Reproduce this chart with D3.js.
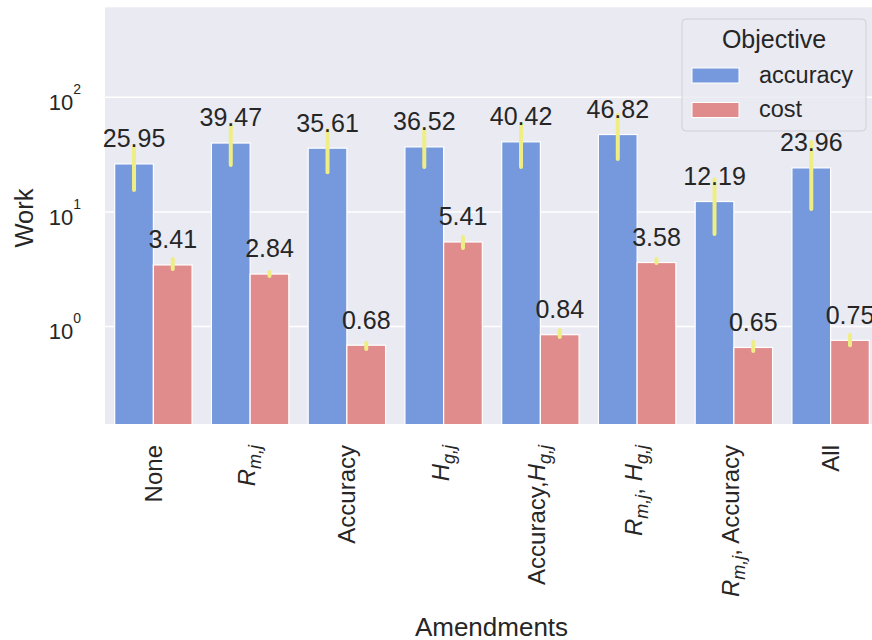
<!DOCTYPE html>
<html>
<head>
<meta charset="utf-8">
<script src="https://cdn.jsdelivr.net/npm/d3@7"></script>
<style>
  body { margin: 0; background: #fff; }
  svg { display: block; font-family: "Liberation Sans", Arial, sans-serif; }
</style>
</head>
<body>
<div id="chart"></div>
<script>
// data
var categories = ['None', '$R_{m,j}$', 'Accuracy', '$H_{g,j}$', 'Accuracy,$H_{g,j}$',
                  '$R_{m,j}$, $H_{g,j}$', '$R_{m,j}$, Accuracy', 'All'];
var objectives = ['accuracy', 'cost'];
var accuracyWork = [25.95, 39.47, 35.61, 36.52, 40.42, 46.82, 12.19, 23.96];
var costWork     = [3.41, 2.84, 0.68, 5.41, 0.84, 3.58, 0.65, 0.75];
var accuracyLow  = [15.4, 25.4, 22.0, 24.4, 24.4, 28.6, 6.35, 10.5];
var accuracyHigh = [36.4, 56.6, 51.2, 52.3, 57.8, 69.2, 19.1, 40.3];
var costLow      = [3.14, 2.73, 0.63, 4.79, 0.80, 3.54, 0.605, 0.68];
var costHigh     = [3.84, 2.96, 0.71, 5.97, 0.92, 3.84, 0.725, 0.835];
var yTicks = [1, 10, 100];
var yTickExp = ['0', '1', '2'];

// layout
var width = 872,
    height = 640,
    plotLeft = 105,
    plotRight = 879,
    plotTop = 7.3,
    plotBottom = 424,
    yMin = 0.1397,
    yMax = 603,
    colors = {accuracy: '#7599dc', cost: '#e18c8c'},
    errColor = '#eeee84',
    textColor = '#262626';

var rows = [];
categories.forEach(function(c, i) {
  rows.push({cat: c, obj: 'accuracy', v: accuracyWork[i], lo: accuracyLow[i], hi: accuracyHigh[i]});
  rows.push({cat: c, obj: 'cost', v: costWork[i], lo: costLow[i], hi: costHigh[i]});
});

var svg = d3.select('#chart').append('svg')
    .attr('width', width)
    .attr('height', height);

var x = d3.scaleBand().domain(categories)
    .range([plotLeft, plotRight])
    .paddingInner(0.2).paddingOuter(0.1);
var xHue = d3.scaleBand().domain(objectives).range([0, x.bandwidth()]);
var y = d3.scaleLog().domain([yMin, yMax]).range([plotBottom, plotTop]);

svg.append('clipPath').attr('id', 'plotClip')
  .append('rect')
    .attr('x', plotLeft).attr('y', plotTop)
    .attr('width', plotRight - plotLeft).attr('height', plotBottom - plotTop);

svg.append('rect')
    .attr('x', plotLeft).attr('y', plotTop)
    .attr('width', plotRight - plotLeft).attr('height', plotBottom - plotTop)
    .attr('fill', '#eaeaf2');

// grid
var grid = svg.append('g')
    .attr('transform', 'translate(' + plotLeft + ',0)')
    .call(d3.axisLeft(y).tickValues(yTicks).tickSize(-(plotRight - plotLeft)).tickFormat(''));
grid.select('.domain').remove();
grid.selectAll('line').attr('stroke', '#fff').attr('stroke-width', 1.5);

// y tick labels 10^n
var yLab = svg.append('g').selectAll('text')
    .data(yTicks)
    .enter().append('text')
    .attr('x', 81)
    .attr('y', function(d) { return y(d) + 13.3; })
    .attr('text-anchor', 'end')
    .attr('fill', textColor)
    .attr('font-size', '22px');
yLab.append('tspan').text('10');
yLab.append('tspan')
    .attr('dy', -16)
    .attr('font-size', '14px')
    .text(function(d, i) { return yTickExp[i]; });

// bars
var plot = svg.append('g').attr('clip-path', 'url(#plotClip)');
plot.selectAll('rect.bar')
    .data(rows)
    .enter().append('rect')
    .attr('class', 'bar')
    .attr('x', function(d) { return x(d.cat) + xHue(d.obj); })
    .attr('width', xHue.bandwidth())
    .attr('y', function(d) { return y(d.v); })
    .attr('height', function(d) { return plotBottom + 2 - y(d.v); })
    .attr('fill', function(d) { return colors[d.obj]; })
    .attr('stroke', '#fff')
    .attr('stroke-width', 1.2);

// error bars
plot.selectAll('line.err')
    .data(rows)
    .enter().append('line')
    .attr('class', 'err')
    .attr('x1', function(d) { return x(d.cat) + xHue(d.obj) + xHue.bandwidth() / 2; })
    .attr('x2', function(d) { return x(d.cat) + xHue(d.obj) + xHue.bandwidth() / 2; })
    .attr('y1', function(d) { return y(d.lo); })
    .attr('y2', function(d) { return y(d.hi); })
    .attr('stroke', errColor)
    .attr('stroke-width', 4)
    .attr('stroke-linecap', 'round');

// value labels
svg.append('g').selectAll('text')
    .data(rows)
    .enter().append('text')
    .attr('x', function(d) { return x(d.cat) + xHue(d.obj) + xHue.bandwidth() / 2; })
    .attr('y', function(d) { return y(d.v) - 16.6; })
    .attr('text-anchor', 'middle')
    .attr('fill', textColor)
    .attr('font-size', '25px')
    .text(function(d) { return d3.format('.2f')(d.v); });

// x tick labels, rotated, with simple $X_{sub}$ math
function drawLabel(sel, label) {
  var parts = label.split('$'),
      shift = 0;
  parts.forEach(function(p, i) {
    if (p === '') return;
    if (i % 2 === 0) {
      sel.append('tspan').attr('dy', shift).text(p);
      shift = 0;
    } else {
      var m = p.match(/^(\w)_\{(.+)\}$/);
      sel.append('tspan').attr('dy', shift).attr('font-style', 'italic').text(m[1]);
      sel.append('tspan').attr('font-style', 'italic').attr('font-size', '18px')
         .attr('dy', 6).text(m[2]);
      shift = -6;
    }
  });
}

svg.append('g').selectAll('text')
    .data(categories)
    .enter().append('text')
    .attr('transform', function(d) {
      var off = d.indexOf('$') > -1 ? 5 : 8.5;
      return 'translate(' + (x(d) + x.bandwidth() / 2 + off) + ',445) rotate(-90)';
    })
    .attr('text-anchor', 'end')
    .attr('fill', textColor)
    .attr('font-size', '24px')
    .each(function(d) { drawLabel(d3.select(this), d); });

// axis titles
svg.append('text')
    .attr('x', (plotLeft + 872) / 2 + 3)
    .attr('y', 636)
    .attr('text-anchor', 'middle')
    .attr('fill', textColor)
    .attr('font-size', '26px')
    .text('Amendments');

svg.append('text')
    .attr('transform', 'translate(32.5,218) rotate(-90)')
    .attr('text-anchor', 'middle')
    .attr('fill', textColor)
    .attr('font-size', '25.5px')
    .text('Work');

// legend
var legend = svg.append('g');
legend.append('rect')
    .attr('x', 682).attr('y', 19)
    .attr('width', 184).attr('height', 112)
    .attr('rx', 4)
    .attr('fill', '#eaeaf2').attr('fill-opacity', 0.8)
    .attr('stroke', '#cfcfd4');
legend.append('text')
    .attr('x', 774).attr('y', 48)
    .attr('text-anchor', 'middle')
    .attr('fill', textColor)
    .attr('font-size', '25px')
    .text('Objective');
var item = legend.selectAll('g.item')
    .data(objectives)
    .enter().append('g')
    .attr('class', 'item')
    .attr('transform', function(d, i) { return 'translate(0,' + (i * 34.5) + ')'; });
item.append('rect')
    .attr('x', 692).attr('y', 68)
    .attr('width', 47).attr('height', 15)
    .attr('fill', function(d) { return colors[d]; })
    .attr('stroke', '#fff').attr('stroke-width', 1);
item.append('text')
    .attr('x', 759).attr('y', 82.5)
    .attr('fill', textColor)
    .attr('font-size', '23.5px')
    .text(function(d) { return d; });
</script>
</body>
</html>
